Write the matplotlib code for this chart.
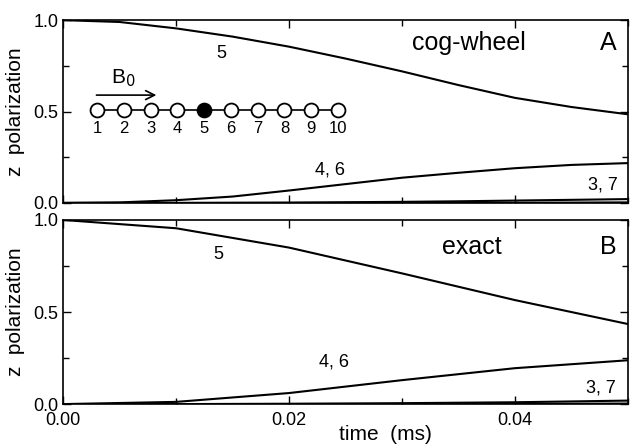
import matplotlib
matplotlib.use('Agg')
import matplotlib.pyplot as plt
from matplotlib.ticker import MultipleLocator

plt.rcParams['font.family'] = ['Liberation Sans', 'DejaVu Sans']

# time axis (ms)
t_a = [0.0, 0.005, 0.01, 0.015, 0.02, 0.025, 0.03, 0.035, 0.04, 0.045, 0.05]
a_site5 = [1.0, 0.99, 0.955, 0.91, 0.855, 0.79, 0.72, 0.645, 0.575, 0.525, 0.485]
a_site46 = [0.0, 0.003, 0.015, 0.035, 0.068, 0.103, 0.138, 0.165, 0.19, 0.208, 0.218]
a_site37 = [0.0, 0.0, 0.0, 0.001, 0.002, 0.004, 0.006, 0.009, 0.013, 0.017, 0.021]
a_rest = [0.0, 0.0, 0.0, 0.0, 0.0, 0.0, 0.0, 0.001, 0.001, 0.002, 0.003]

t_b = [0.0, 0.01, 0.02, 0.03, 0.04, 0.05]
b_site5 = [1.0, 0.955, 0.85, 0.71, 0.565, 0.435]
b_site46 = [0.0, 0.012, 0.06, 0.13, 0.195, 0.238]
b_site37 = [0.0, 0.0, 0.002, 0.005, 0.01, 0.019]
b_rest = [0.0, 0.0, 0.0, 0.0, 0.001, 0.003]

# chain diagram: 10 sites, site 5 is the polarized one
sites = list(range(1, 11))
site_x = [0.003 + 0.00237 * (s - 1) for s in sites]

fig = plt.figure(figsize=(6.38, 4.48), dpi=100)
ax1 = fig.add_axes([0.099, 0.547, 0.885, 0.408])
ax2 = fig.add_axes([0.099, 0.098, 0.885, 0.411])

for ax in (ax1, ax2):
    ax.set_xlim(0, 0.05)
    ax.set_ylim(0, 1.0)
    ax.xaxis.set_major_locator(MultipleLocator(0.02))
    ax.xaxis.set_minor_locator(MultipleLocator(0.01))
    ax.yaxis.set_major_locator(MultipleLocator(0.5))
    ax.yaxis.set_minor_locator(MultipleLocator(0.25))
    ax.tick_params(which='both', direction='in', top=True, right=True,
                   labelsize=13, width=1)
    ax.tick_params(which='major', length=6)
    ax.tick_params(which='minor', length=4)
    for s in ax.spines.values():
        s.set_linewidth(1.2)
    ax.yaxis.set_major_formatter(plt.FormatStrFormatter('%.1f'))
    ax.set_ylabel('z  polarization', fontsize=15, labelpad=6)

ax1.tick_params(labelbottom=False)
ax2.tick_params(axis='x', pad=6)
ax2.xaxis.set_major_formatter(plt.FormatStrFormatter('%.2f'))
ax2.set_xlabel('time  (ms)', fontsize=15, labelpad=0)
ax2.xaxis.set_label_coords(0.57, -0.115)

lw = 1.5
ax1.plot(t_a, a_site5, color='black', lw=lw)
ax1.plot(t_a, a_site46, color='black', lw=lw)
ax1.plot(t_a, a_site37, color='black', lw=lw)
ax1.plot(t_a, a_rest, color='black', lw=lw)

ax2.plot(t_b, b_site5, color='black', lw=lw)
ax2.plot(t_b, b_site46, color='black', lw=lw)
ax2.plot(t_b, b_site37, color='black', lw=lw)
ax2.plot(t_b, b_rest, color='black', lw=lw)

# labels in panel A
ax1.text(0.014, 0.82, '5', fontsize=13, ha='center', va='center')
ax1.text(0.0236, 0.18, '4, 6', fontsize=13, ha='center', va='center')
ax1.text(0.0478, 0.10, '3, 7', fontsize=13, ha='center', va='center')
ax1.text(0.0359, 0.875, 'cog-wheel', fontsize=18, ha='center', va='center')
ax1.text(0.0483, 0.875, 'A', fontsize=18, ha='center', va='center')

# labels in panel B
ax2.text(0.0137, 0.81, '5', fontsize=13, ha='center', va='center')
ax2.text(0.024, 0.23, '4, 6', fontsize=13, ha='center', va='center')
ax2.text(0.0476, 0.09, '3, 7', fontsize=13, ha='center', va='center')
ax2.text(0.0362, 0.855, 'exact', fontsize=18, ha='center', va='center')
ax2.text(0.0483, 0.855, 'B', fontsize=18, ha='center', va='center')

# chain inset
chain_y = 0.508
ax1.plot([site_x[0], site_x[-1]], [chain_y, chain_y], color='black', lw=1.2, zorder=3)
for s, x in zip(sites, site_x):
    face = 'black' if s == 5 else 'white'
    ax1.plot(x, chain_y, 'o', ms=10, mfc=face, mec='black', mew=1.3, zorder=4)
    ax1.text(x, 0.41, str(s), fontsize=12, ha='center', va='center')
ax1.annotate('', xy=(0.0085, 0.59), xytext=(0.0027, 0.59),
             arrowprops=dict(arrowstyle='->', color='black', lw=1.2,
                             mutation_scale=16))
ax1.text(0.0053, 0.68, r'B$_0$', fontsize=15, ha='center', va='center')

fig.savefig('out.png', dpi=100)
